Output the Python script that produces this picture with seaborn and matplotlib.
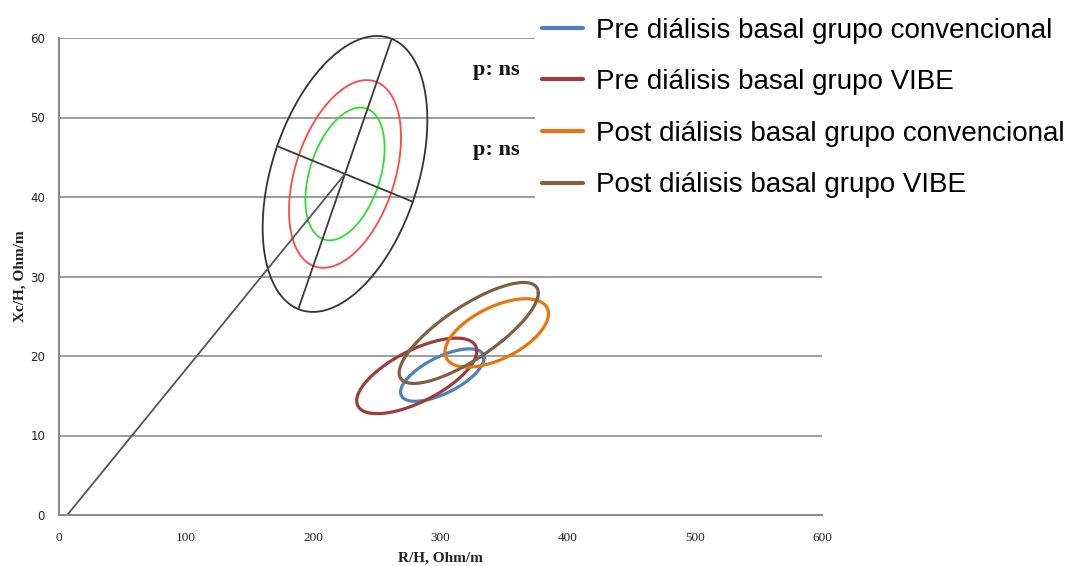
import numpy as np
import pandas as pd
import matplotlib
matplotlib.use("Agg")
import matplotlib.pyplot as plt
from matplotlib.patches import Rectangle
import seaborn as sns

# Confidence ellipses of the mean vectors (R/H, Xc/H) per group:
# centre, half-width along R/H, half-height along Xc/H, correlation
groups = [
    "Pre diálisis basal grupo convencional",
    "Pre diálisis basal grupo VIBE",
    "Post diálisis basal grupo convencional",
    "Post diálisis basal grupo VIBE",
]
center_r = [301.4, 281.3, 344.2, 322.2]
center_xc = [17.6, 17.5, 22.9, 22.9]
half_r = [32.8, 47.2, 40.7, 54.7]
half_xc = [3.3, 4.75, 4.3, 6.35]
corr = [0.65, 0.66, 0.56, 0.79]
group_colors = ["#4F81BD", "#9B3D3B", "#E8760F", "#7F6042"]

# Reference tolerance ellipses (50 %, 75 %, 95 %): centre and the two
# conjugate semi-axes of the 95 % ellipse
ref_center = (224.9, 42.9)
ref_axis_a = (36.7, 17.0)
ref_axis_b = (53.35, -3.5)
tolerance_levels = [0.50, 0.75, 0.95]
tolerance_colors = ["#2EE02E", "#FF4646", "#333333"]
vector_start = (6.5, 0.0)

x_ticks = [0, 100, 200, 300, 400, 500, 600]
y_ticks = [0, 10, 20, 30, 40, 50, 60]
p_labels = ["p: ns", "p: ns"]
p_label_x = [344.0, 344.0]
p_label_y = [55.3, 45.3]

sns.set_theme(style="white")
plt.rcParams["font.family"] = ["DejaVu Sans"]

W, H = 1074, 566
fig = plt.figure(figsize=(W / 100, H / 100), dpi=100)
fig.patch.set_facecolor("white")
ax = fig.add_axes([59 / W, 1 - 515 / H, (822 - 59) / W, (515 - 38) / H])
ax.set_facecolor("white")

t = np.linspace(0, 2 * np.pi, 400)

# reference ellipses
chi_95 = np.sqrt(-2 * np.log(1 - 0.95))
for level, col in zip(tolerance_levels, tolerance_colors):
    s = np.sqrt(-2 * np.log(1 - level)) / chi_95
    ex = ref_center[0] + s * (np.cos(t) * ref_axis_a[0] + np.sin(t) * ref_axis_b[0])
    ey = ref_center[1] + s * (np.cos(t) * ref_axis_a[1] + np.sin(t) * ref_axis_b[1])
    sns.lineplot(x=ex, y=ey, sort=False, estimator=None, color=col,
                 linewidth=1.3, ax=ax, legend=False)
for line in ax.lines:
    line.set_clip_on(False)

# principal axes of the reference ellipse and the impedance vector
axis_col = "#3A3A3A"
for v in (ref_axis_a, ref_axis_b):
    ax.plot([ref_center[0] - v[0], ref_center[0] + v[0]],
            [ref_center[1] - v[1], ref_center[1] + v[1]],
            color=axis_col, linewidth=1.3, clip_on=False)
ax.plot([vector_start[0], ref_center[0]], [vector_start[1], ref_center[1]],
        color="#555555", linewidth=1.3)

# group ellipses
handles = []
for name, cx, cy, hx, hy, r, col in zip(groups, center_r, center_xc, half_r,
                                        half_xc, corr, group_colors):
    ex = cx + hx * np.cos(t)
    ey = cy + hy * (r * np.cos(t) + np.sqrt(1 - r ** 2) * np.sin(t))
    sns.lineplot(x=ex, y=ey, sort=False, estimator=None, color=col,
                 linewidth=2.3, ax=ax, legend=False)
    handles.append(plt.Line2D([], [], color=col, linewidth=3.0, label=name))

for txt, px, py in zip(p_labels, p_label_x, p_label_y):
    ax.text(px, py, txt, ha="center", va="baseline", fontsize=16,
            fontweight="bold", family="Liberation Serif", color="#111111")

ax.set_xlim(0, 600)
ax.set_ylim(0, 60)
ax.set_xticks(x_ticks)
ax.set_yticks(y_ticks)
ax.set_xticklabels([str(v) for v in x_ticks], family="Liberation Serif",
                   fontsize=9.5, color="#222222")
ax.set_yticklabels([str(v) for v in y_ticks], family="DejaVu Sans",
                   fontsize=8.5, color="#222222")
ax.tick_params(axis="x", length=0, pad=12)
ax.tick_params(axis="y", length=0, pad=10)
ax.yaxis.grid(True, color="#8C8C8C", linewidth=1.2)
ax.xaxis.grid(False)
ax.set_axisbelow(True)
for side in ("top", "right"):
    ax.spines[side].set_visible(False)
for side in ("left", "bottom"):
    ax.spines[side].set_color("#8C8C8C")
    ax.spines[side].set_linewidth(1.5)

ax.set_xlabel("R/H, Ohm/m", family="Liberation Serif", fontweight="bold",
              fontsize=11, labelpad=6, color="#222222")
ax.set_ylabel("Xc/H, Ohm/m", family="Liberation Serif", fontweight="bold",
              fontsize=11, labelpad=3, color="#222222")

# white panel behind the legend
fig.patches.append(Rectangle((535 / W, 1 - 210 / H), (W - 535) / W, 210 / H,
                             transform=fig.transFigure, facecolor="white",
                             edgecolor="none", zorder=1))
fig.legend(handles=handles, loc="upper left",
           bbox_to_anchor=(536 / W, 1 - 12 / H), bbox_transform=fig.transFigure,
           frameon=False, handlelength=1.5, handletextpad=0.45,
           labelspacing=0.92, borderaxespad=0.0, borderpad=0.2,
           labelcolor="black",
           prop={"family": "Liberation Sans", "size": 20})

fig.savefig("out.png", dpi=100)
